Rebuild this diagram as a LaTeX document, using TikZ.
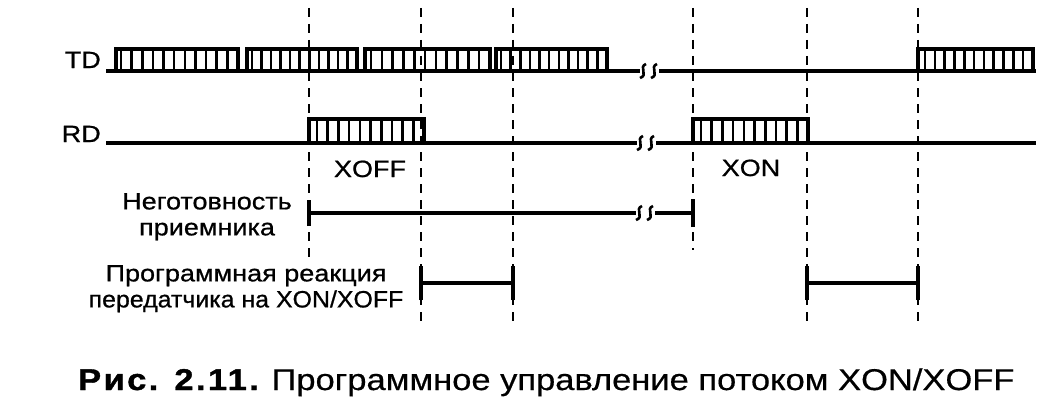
\documentclass[tikz,border=0pt]{standalone}
\usepackage{fontspec}
\setmainfont{Liberation Sans}[FakeStretch=1.15]
\newfontfamily\lblfont{Liberation Sans}[FakeStretch=1.15, FakeBold=0.8]
\newfontfamily\narrowfont{Liberation Sans}[FakeStretch=1.06, FakeBold=0.8]
\newfontfamily\capfont{Liberation Sans}[FakeStretch=1.15, FakeBold=0.5]
\newfontfamily\capbold{Liberation Sans}[FakeStretch=1.15, BoldFont={Liberation Sans Bold}, BoldFeatures={FakeBold=1.2, LetterSpace=8}]
\usetikzlibrary{positioning}

% two small break marks on a line
\newcommand{\cutmark}[2]{%
    \draw[cutline] (#1-3,#2+7) .. controls (#1+6,#2+4) and (#1-5,#2-4) .. (#1+3,#2-7);
    \draw[cutline] (#1+8,#2+7) .. controls (#1+17,#2+4) and (#1+6,#2-4) .. (#1+14,#2-7);
}

\begin{document}
\begin{tikzpicture}[
    x=1pt, y=-1pt,
    signal/.style={line width=4pt},
    bitbar/.style={line width=2.6pt},
    guide/.style={line width=2.3pt, dash pattern=on 9pt off 7pt},
    span/.style={line width=4pt},
    cutline/.style={line width=2.6pt},
    lbl/.style={font=\lblfont\fontsize{23.5}{26}\selectfont, inner sep=0pt},
    caption/.style={font=\capfont\fontsize{30}{36}\selectfont, inner sep=0pt}
]
\useasboundingbox (0,0) rectangle (1040,404);

% guide lines
\foreach \x/\e in {309/258, 421/322, 513/322, 693/250, 807/322, 918/322}
    \draw[guide] (\x,8) -- (\x,\e);

% TD
\node[lbl, anchor=base east] (td) at (101,68) {TD};
\coordinate (tdA) at (106,71);
\coordinate (tdB) at (640,71);
\coordinate (tdC) at (659,71);
\coordinate (tdD) at (1036,71);
\draw[signal] (tdA) -- (tdB);
\draw[signal] (tdC) -- (tdD);
\cutmark{643}{71}
\foreach \a/\s/\b in {116/121/238, 247/252/357, 365/371/490, 496/501/607, 918/925/1033} {
    \draw[signal] (\a,71) rectangle (\b,49);
    \draw[bitbar] (\s,49) -- (\s,71);
    \foreach \k in {1,...,10}
        \draw[bitbar] ({\s+\k*(\b-\s)/11},49) -- ++(0,22);
}

% RD
\node[lbl, anchor=base east] (rd) at (101,142) {RD};
\coordinate (rdA) at (106,143);
\coordinate (rdB) at (637,143);
\coordinate (rdC) at (656,143);
\coordinate (rdD) at (1036,143);
\draw[signal] (rdA) -- (rdB);
\draw[signal] (rdC) -- (rdD);
\cutmark{640}{143}
\foreach \a/\s/\b in {309/317/424, 693/701/808} {
    \draw[signal] (\a,143) rectangle (\b,119);
    \draw[bitbar] (\s,119) -- (\s,143);
    \foreach \k in {1,...,9}
        \draw[bitbar] ({\s+\k*(\b-\s)/10},119) -- ++(0,24);
}
\node[lbl, anchor=base] (xoff) at (370,177) {XOFF};
\node[lbl, anchor=base] (xon) at (751,176) {XON};

% not ready span
\node[lbl, anchor=north, align=center] (nready) at (207,193) {Неготовность\\приемника};
\coordinate (nrA) at (309,213);
\coordinate (nrB) at (636,213);
\coordinate (nrC) at (655,213);
\coordinate (nrD) at (693,213);
\draw[span] (nrA) -- (nrB);
\draw[span] (nrC) -- (nrD);
\cutmark{639}{213}
\draw[span] ([yshift=-13pt]nrA) -- ([yshift=13pt]nrA);
\draw[span] ([yshift=-14pt]nrD) -- ([yshift=14pt]nrD);

% reaction spans
\node[lbl, anchor=north, align=center] (react) at (246,265)
    {Программная реакция\\{\narrowfont передатчика на XON/XOFF}};
\coordinate (rxA) at (421,283);
\coordinate (rxB) at (513,283);
\coordinate (rxC) at (807,283);
\coordinate (rxD) at (918,283);
\draw[span] (rxA) -- (rxB);
\draw[span] (rxC) -- (rxD);
\foreach \p in {rxA, rxB, rxC, rxD}
    \draw[span] ([yshift=-17pt]\p) -- ([yshift=17pt]\p);

% caption
\node[caption, anchor=base west] (cap) at (78,390)
    {{\capbold\bfseries Рис. 2.11.} Программное управление потоком XON/XOFF};
\end{tikzpicture}
\end{document}
